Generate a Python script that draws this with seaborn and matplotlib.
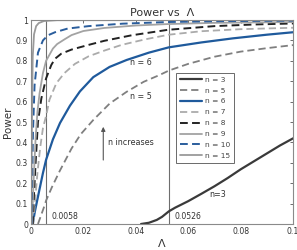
import matplotlib
matplotlib.use("Agg")
import matplotlib.pyplot as plt
from matplotlib.ticker import FuncFormatter
import seaborn as sns
import pandas as pd

# values (Lambda, power) per sample size n
lam_n3 = [0.042, 0.045, 0.048, 0.05, 0.0526, 0.055, 0.06, 0.065, 0.07, 0.075, 0.08, 0.085, 0.09, 0.095, 0.1]
pow_n3 = [0.0, 0.006, 0.02, 0.035, 0.062, 0.08, 0.112, 0.148, 0.185, 0.225, 0.268, 0.307, 0.346, 0.385, 0.42]

lam_n5 = [0.0027, 0.0052, 0.0058, 0.008, 0.011, 0.0155, 0.019, 0.0238, 0.03, 0.0365, 0.043, 0.049, 0.0526, 0.06, 0.07, 0.08, 0.09, 0.1]
pow_n5 = [0.0, 0.09, 0.115, 0.18, 0.26, 0.37, 0.44, 0.51, 0.59, 0.648, 0.697, 0.73, 0.752, 0.785, 0.82, 0.845, 0.862, 0.877]

lam_n6 = [0.0007, 0.0015, 0.0027, 0.0046, 0.0058, 0.0084, 0.0111, 0.0149, 0.0187, 0.0238, 0.03, 0.0365, 0.045, 0.0526, 0.065, 0.077, 0.09, 0.1]
pow_n6 = [0.0, 0.06, 0.134, 0.25, 0.315, 0.415, 0.495, 0.58, 0.65, 0.72, 0.77, 0.804, 0.84, 0.866, 0.89, 0.91, 0.928, 0.94]

lam_n7 = [0.0009, 0.0015, 0.0025, 0.0035, 0.0046, 0.0058, 0.0071, 0.0097, 0.0128, 0.0168, 0.022, 0.028, 0.0346, 0.0435, 0.0526, 0.065, 0.08, 0.1]
pow_n7 = [0.0, 0.1, 0.25, 0.37, 0.47, 0.53, 0.61, 0.69, 0.74, 0.785, 0.822, 0.85, 0.878, 0.905, 0.928, 0.945, 0.955, 0.962]

lam_n8 = [0.0007, 0.0012, 0.0018, 0.0027, 0.004, 0.0058, 0.0078, 0.0092, 0.0116, 0.0155, 0.022, 0.028, 0.0384, 0.0523, 0.07, 0.085, 0.1]
pow_n8 = [0.0, 0.15, 0.3, 0.5, 0.616, 0.714, 0.78, 0.81, 0.835, 0.855, 0.878, 0.898, 0.925, 0.952, 0.97, 0.978, 0.983]

lam_n9 = [0.0004, 0.001, 0.0018, 0.0025, 0.0033, 0.0046, 0.0058, 0.0084, 0.01, 0.0128, 0.0155, 0.02, 0.028, 0.04, 0.052, 0.07, 0.1]
pow_n9 = [0.0, 0.2, 0.42, 0.55, 0.64, 0.74, 0.8, 0.86, 0.882, 0.905, 0.926, 0.946, 0.961, 0.973, 0.98, 0.986, 0.99]

lam_n10 = [0.0002, 0.0006, 0.0008, 0.0014, 0.0027, 0.0046, 0.0065, 0.0092, 0.014, 0.022, 0.035, 0.052, 0.07, 0.1]
pow_n10 = [0.0, 0.3, 0.45, 0.68, 0.84, 0.9, 0.925, 0.94, 0.958, 0.97, 0.982, 0.99, 0.994, 0.997]

lam_n15 = [0.0001, 0.0004, 0.0007, 0.0012, 0.002, 0.003, 0.005, 0.01, 0.1]
pow_n15 = [0.0, 0.5, 0.82, 0.93, 0.97, 0.985, 0.995, 0.999, 1.0]

markers_lam = [0.0058, 0.0526]

series = [
    ("n = 3", lam_n3, pow_n3, "#3a3a3a", "-", 1.6),
    ("n = 5", lam_n5, pow_n5, "#7f7f7f", (0, (4, 2.2)), 1.3),
    ("n = 6", lam_n6, pow_n6, "#1f5a9c", "-", 1.6),
    ("n = 7", lam_n7, pow_n7, "#ababab", (0, (4, 2.2)), 1.3),
    ("n = 8", lam_n8, pow_n8, "#222222", (0, (4, 2.2)), 1.4),
    ("n = 9", lam_n9, pow_n9, "#a3a3a3", "-", 1.3),
    ("n = 10", lam_n10, pow_n10, "#2a5d9c", (0, (4, 2.2)), 1.4),
    ("n = 15", lam_n15, pow_n15, "#9a9a9a", "-", 1.3),
]

sns.set_style("white")
plt.rcParams["font.family"] = ["DejaVu Sans"]

fig = plt.figure(figsize=(2.97, 2.5), dpi=100)
ax = fig.add_axes([0.104, 0.104, 0.883, 0.816])

for lbl, lam, pw, col, ls, lw in series:
    d = pd.DataFrame({"Lambda": lam, "Power": pw})
    sns.lineplot(data=d, x="Lambda", y="Power", ax=ax, color=col,
                 linestyle=ls, linewidth=lw, label=lbl, estimator=None)

for m in markers_lam:
    ax.axvline(m, color="#6e6e6e", lw=0.8, zorder=1)
    ax.text(m + 0.0021, 0.036, f"{m:g}", fontsize=5.6, color="#333333",
            va="center", ha="left")

ax.text(0.0378, 0.79, "n = 6", fontsize=5.8, color="#333333", va="center")
ax.text(0.0378, 0.627, "n = 5", fontsize=5.8, color="#333333", va="center")
ax.text(0.0295, 0.40, "n increases", fontsize=5.8, color="#333333", va="center")
ax.text(0.068, 0.147, "n=3", fontsize=5.8, color="#333333", va="center")
ax.annotate("", xy=(0.0276, 0.49), xytext=(0.0276, 0.30),
            arrowprops=dict(arrowstyle="-|>", color="#555555", lw=0.8,
                            mutation_scale=6))

ax.set_xlim(0, 0.1)
ax.set_ylim(0, 1)
ax.set_xticks([0, 0.02, 0.04, 0.06, 0.08, 0.1])
ax.set_yticks([i / 10 for i in range(11)])
fmt = FuncFormatter(lambda v, p: f"{v:g}")
ax.xaxis.set_major_formatter(fmt)
ax.yaxis.set_major_formatter(fmt)
ax.tick_params(direction="in", length=2.5, width=0.6, labelsize=5.6,
               colors="#555555", labelcolor="#333333", top=True, right=True, pad=2)
for s in ax.spines.values():
    s.set_color("#8a8a8a")
    s.set_linewidth(0.8)

ax.set_title("Power vs  Λ", fontsize=8, color="#333333", pad=3)
ax.set_xlabel("Λ", fontsize=8, color="#333333", labelpad=2)
ax.set_ylabel("Power", fontsize=7.5, color="#333333", labelpad=2)

leg = ax.legend(loc="upper left", bbox_to_anchor=(0.553, 0.742), fontsize=5.4,
                frameon=True, fancybox=False, handlelength=3.0, handletextpad=0.4,
                labelspacing=0.62, borderpad=0.5, borderaxespad=0)
leg.get_frame().set_edgecolor("#444444")
leg.get_frame().set_linewidth(0.7)
for t in leg.get_texts():
    t.set_color("#444444")

fig.savefig("out.png", dpi=100)
